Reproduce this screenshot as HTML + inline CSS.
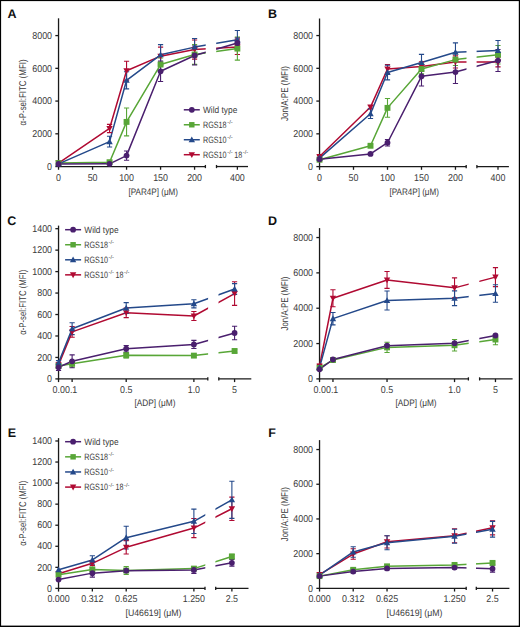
<!DOCTYPE html>
<html><head><meta charset="utf-8"><style>
html,body{margin:0;padding:0;background:#fff;}
body{width:520px;height:627px;overflow:hidden;}
svg{display:block;font-family:"Liberation Sans", sans-serif;text-rendering:geometricPrecision;}
</style></head><body>
<svg width="520" height="627" viewBox="0 0 520 627">
<rect x="0" y="0" width="520" height="627" fill="#fff"/>
<clipPath id="cA"><rect x="0" y="0" width="205.7" height="700"/><rect x="216.2" y="0" width="300" height="700"/></clipPath>
<text x="7.5" y="17.5" font-size="12.5" font-weight="bold" fill="#111">A</text>
<g stroke="#1a1a1a" stroke-width="1.3" fill="none">
<path d="M58.54 18.3V167.2"/>
<path d="M57.89 166.55H205.4"/>
<path d="M216.5 166.55H248"/>
<path d="M205.4 164.95V168.15"/>
<path d="M216.5 164.95V168.15"/>
<path d="M55.34 166.55H58.54"/>
<path d="M55.34 133.81H58.54"/>
<path d="M55.34 101.07H58.54"/>
<path d="M55.34 68.33H58.54"/>
<path d="M55.34 35.59H58.54"/>
<path d="M58.54 166.55V169.75"/>
<path d="M92.58 166.55V169.75"/>
<path d="M126.56 166.55V169.75"/>
<path d="M160.57 166.55V169.75"/>
<path d="M194.58 166.55V169.75"/>
<path d="M237.38 166.55V169.75"/>
</g>
<g font-size="19.8" fill="#3a3a3a">
<text transform="translate(52.04 169.75) scale(0.45 0.5)" text-anchor="end">0</text>
<text transform="translate(52.04 137.01) scale(0.45 0.5)" text-anchor="end">2000</text>
<text transform="translate(52.04 104.27) scale(0.45 0.5)" text-anchor="end">4000</text>
<text transform="translate(52.04 71.53) scale(0.45 0.5)" text-anchor="end">6000</text>
<text transform="translate(52.04 38.79) scale(0.45 0.5)" text-anchor="end">8000</text>
<text transform="translate(58.54 180.85) scale(0.45 0.5)" text-anchor="middle">0</text>
<text transform="translate(92.58 180.85) scale(0.45 0.5)" text-anchor="middle">50</text>
<text transform="translate(126.56 180.85) scale(0.45 0.5)" text-anchor="middle">100</text>
<text transform="translate(160.57 180.85) scale(0.45 0.5)" text-anchor="middle">150</text>
<text transform="translate(194.58 180.85) scale(0.45 0.5)" text-anchor="middle">200</text>
<text transform="translate(237.38 180.85) scale(0.45 0.5)" text-anchor="middle">400</text>
</g>
<text transform="translate(26.4 92.43) rotate(-90)" font-size="9.9" fill="#3a3a3a" text-anchor="middle" textLength="66" lengthAdjust="spacingAndGlyphs">α-P-sel:FITC (MFI)</text>
<text x="153.27" y="194.95" font-size="9.4" fill="#3a3a3a" text-anchor="middle" textLength="49.6" lengthAdjust="spacingAndGlyphs">[PAR4P] (μM)</text>
<g clip-path="url(#cA)" fill="none" stroke-width="1.5" stroke-linejoin="round">
<path d="M58.54 163.01 L109.55 128.49 L126.56 70.79 L160.57 56.15 L194.58 49.57 L237.38 47.11" stroke="#b00a32"/>
<path d="M58.54 163.01 L109.55 162.2 L126.56 121.91 L160.57 64.53 L194.58 54.51 L237.38 48.59" stroke="#58a637"/>
<path d="M58.54 163.83 L109.55 141.63 L126.56 80.31 L160.57 54.84 L194.58 47.11 L237.38 39.72" stroke="#24498a"/>
<path d="M58.54 164 L109.55 163.83 L126.56 155.61 L160.57 71.28 L194.58 55.5 L237.38 43.01" stroke="#4a1f6e"/>
</g>
<g fill="none" stroke-width="1.1">
<path d="M109.55 124.38V132.6 M106.95 124.38H112.15 M106.95 132.6H112.15" stroke="#b00a32"/>
<path d="M126.56 61.26V80.31 M123.96 61.26H129.16 M123.96 80.31H129.16" stroke="#b00a32"/>
<path d="M160.57 47.11V65.19 M157.97 47.11H163.17 M157.97 65.19H163.17" stroke="#b00a32"/>
<path d="M194.58 40.04V59.1 M191.98 40.04H197.18 M191.98 59.1H197.18" stroke="#b00a32"/>
<path d="M237.38 39.72V54.51 M234.78 39.72H239.98 M234.78 54.51H239.98" stroke="#b00a32"/>
<path d="M109.55 161.21V163.18 M106.95 161.21H112.15 M106.95 163.18H112.15" stroke="#58a637"/>
<path d="M126.56 107.93V135.89 M123.96 107.93H129.16 M123.96 135.89H129.16" stroke="#58a637"/>
<path d="M160.57 57.95V71.11 M157.97 57.95H163.17 M157.97 71.11H163.17" stroke="#58a637"/>
<path d="M194.58 44.64V64.38 M191.98 44.64H197.18 M191.98 64.38H197.18" stroke="#58a637"/>
<path d="M237.38 37.08V60.1 M234.78 37.08H239.98 M234.78 60.1H239.98" stroke="#58a637"/>
<path d="M109.55 136.22V147.05 M106.95 136.22H112.15 M106.95 147.05H112.15" stroke="#24498a"/>
<path d="M126.56 71.77V88.86 M123.96 71.77H129.16 M123.96 88.86H129.16" stroke="#24498a"/>
<path d="M160.57 44.64V65.04 M157.97 44.64H163.17 M157.97 65.04H163.17" stroke="#24498a"/>
<path d="M194.58 38.57V55.66 M191.98 38.57H197.18 M191.98 55.66H197.18" stroke="#24498a"/>
<path d="M237.38 30.52V48.92 M234.78 30.52H239.98 M234.78 48.92H239.98" stroke="#24498a"/>
<path d="M126.56 151.01V160.21 M123.96 151.01H129.16 M123.96 160.21H129.16" stroke="#4a1f6e"/>
<path d="M160.57 61.08V81.48 M157.97 61.08H163.17 M157.97 81.48H163.17" stroke="#4a1f6e"/>
<path d="M194.58 45.97V65.02 M191.98 45.97H197.18 M191.98 65.02H197.18" stroke="#4a1f6e"/>
<path d="M237.38 38.08V47.93 M234.78 38.08H239.98 M234.78 47.93H239.98" stroke="#4a1f6e"/>
</g>
<path d="M58.54 166.31L61.74 160.51L55.34 160.51Z" fill="#b00a32"/>
<path d="M109.55 131.79L112.75 125.99L106.35 125.99Z" fill="#b00a32"/>
<path d="M126.56 74.09L129.76 68.29L123.36 68.29Z" fill="#b00a32"/>
<path d="M160.57 59.45L163.77 53.65L157.37 53.65Z" fill="#b00a32"/>
<path d="M194.58 52.87L197.78 47.07L191.38 47.07Z" fill="#b00a32"/>
<path d="M237.38 50.41L240.58 44.61L234.18 44.61Z" fill="#b00a32"/>
<rect x="55.59" y="160.06" width="5.9" height="5.9" fill="#58a637"/>
<rect x="106.6" y="159.25" width="5.9" height="5.9" fill="#58a637"/>
<rect x="123.61" y="118.96" width="5.9" height="5.9" fill="#58a637"/>
<rect x="157.62" y="61.58" width="5.9" height="5.9" fill="#58a637"/>
<rect x="191.63" y="51.56" width="5.9" height="5.9" fill="#58a637"/>
<rect x="234.43" y="45.64" width="5.9" height="5.9" fill="#58a637"/>
<path d="M58.54 160.53L61.74 166.33L55.34 166.33Z" fill="#24498a"/>
<path d="M109.55 138.33L112.75 144.13L106.35 144.13Z" fill="#24498a"/>
<path d="M126.56 77.01L129.76 82.81L123.36 82.81Z" fill="#24498a"/>
<path d="M160.57 51.54L163.77 57.34L157.37 57.34Z" fill="#24498a"/>
<path d="M194.58 43.81L197.78 49.61L191.38 49.61Z" fill="#24498a"/>
<path d="M237.38 36.42L240.58 42.22L234.18 42.22Z" fill="#24498a"/>
<circle cx="58.54" cy="164" r="2.9" fill="#4a1f6e"/>
<circle cx="109.55" cy="163.83" r="2.9" fill="#4a1f6e"/>
<circle cx="126.56" cy="155.61" r="2.9" fill="#4a1f6e"/>
<circle cx="160.57" cy="71.28" r="2.9" fill="#4a1f6e"/>
<circle cx="194.58" cy="55.5" r="2.9" fill="#4a1f6e"/>
<circle cx="237.38" cy="43.01" r="2.9" fill="#4a1f6e"/>
<path d="M183.8 109.8H199.8" stroke="#4a1f6e" stroke-width="1.5"/>
<circle cx="191.8" cy="109.8" r="2.9" fill="#4a1f6e"/>
<text x="203" y="112.9" font-size="9.2" fill="#3a3a3a" textLength="34.3" lengthAdjust="spacingAndGlyphs">Wild type</text>
<path d="M183.8 124.77H199.8" stroke="#58a637" stroke-width="1.5"/>
<rect x="189.09" y="122.06" width="5.43" height="5.43" fill="#58a637"/>
<text x="203" y="127.87" font-size="9.2" fill="#3a3a3a" textLength="23.6" lengthAdjust="spacingAndGlyphs">RGS18</text>
<text x="227.3" y="124.37" font-size="5.6" fill="#3a3a3a" textLength="5.4" lengthAdjust="spacingAndGlyphs">-/-</text>
<path d="M183.8 139.74H199.8" stroke="#24498a" stroke-width="1.5"/>
<path d="M191.8 136.44L195 142.24L188.6 142.24Z" fill="#24498a"/>
<text x="203" y="142.84" font-size="9.2" fill="#3a3a3a" textLength="23.6" lengthAdjust="spacingAndGlyphs">RGS10</text>
<text x="227.3" y="139.34" font-size="5.6" fill="#3a3a3a" textLength="5.4" lengthAdjust="spacingAndGlyphs">-/-</text>
<path d="M183.8 154.71H199.8" stroke="#b00a32" stroke-width="1.5"/>
<path d="M191.8 158.01L195 152.21L188.6 152.21Z" fill="#b00a32"/>
<text x="203" y="157.81" font-size="9.2" fill="#3a3a3a" textLength="23.6" lengthAdjust="spacingAndGlyphs">RGS10</text>
<text x="227.3" y="154.31" font-size="5.6" fill="#3a3a3a" textLength="5.4" lengthAdjust="spacingAndGlyphs">-/-</text>
<text x="234.2" y="157.81" font-size="9.2" fill="#3a3a3a" textLength="8" lengthAdjust="spacingAndGlyphs">18</text>
<text x="242.8" y="154.31" font-size="5.6" fill="#3a3a3a" textLength="5.4" lengthAdjust="spacingAndGlyphs">-/-</text>
<clipPath id="cB"><rect x="0" y="0" width="466.5" height="700"/><rect x="476.6" y="0" width="300" height="700"/></clipPath>
<text x="268" y="18.2" font-size="12.5" font-weight="bold" fill="#111">B</text>
<g stroke="#1a1a1a" stroke-width="1.3" fill="none">
<path d="M319.54 18.5V167.25"/>
<path d="M318.89 166.6H466.2"/>
<path d="M476.9 166.6H508.9"/>
<path d="M466.2 165V168.2"/>
<path d="M476.9 165V168.2"/>
<path d="M316.34 166.6H319.54"/>
<path d="M316.34 133.84H319.54"/>
<path d="M316.34 101.08H319.54"/>
<path d="M316.34 68.32H319.54"/>
<path d="M316.34 35.56H319.54"/>
<path d="M319.54 166.6V169.8"/>
<path d="M353.5 166.6V169.8"/>
<path d="M387.5 166.6V169.8"/>
<path d="M421.5 166.6V169.8"/>
<path d="M455.46 166.6V169.8"/>
<path d="M498 166.6V169.8"/>
</g>
<g font-size="19.8" fill="#3a3a3a">
<text transform="translate(313.04 169.8) scale(0.45 0.5)" text-anchor="end">0</text>
<text transform="translate(313.04 137.04) scale(0.45 0.5)" text-anchor="end">2000</text>
<text transform="translate(313.04 104.28) scale(0.45 0.5)" text-anchor="end">4000</text>
<text transform="translate(313.04 71.52) scale(0.45 0.5)" text-anchor="end">6000</text>
<text transform="translate(313.04 38.76) scale(0.45 0.5)" text-anchor="end">8000</text>
<text transform="translate(319.54 180.9) scale(0.45 0.5)" text-anchor="middle">0</text>
<text transform="translate(353.5 180.9) scale(0.45 0.5)" text-anchor="middle">50</text>
<text transform="translate(387.5 180.9) scale(0.45 0.5)" text-anchor="middle">100</text>
<text transform="translate(421.5 180.9) scale(0.45 0.5)" text-anchor="middle">150</text>
<text transform="translate(455.46 180.9) scale(0.45 0.5)" text-anchor="middle">200</text>
<text transform="translate(498 180.9) scale(0.45 0.5)" text-anchor="middle">400</text>
</g>
<text transform="translate(287.6 93.55) rotate(-90)" font-size="9.9" fill="#3a3a3a" text-anchor="middle" textLength="55" lengthAdjust="spacingAndGlyphs">Jon/A:PE (MFI)</text>
<text x="414.22" y="195" font-size="9.4" fill="#3a3a3a" text-anchor="middle" textLength="49.6" lengthAdjust="spacingAndGlyphs">[PAR4P] (μM)</text>
<g clip-path="url(#cB)" fill="none" stroke-width="1.5" stroke-linejoin="round">
<path d="M319.54 156.48 L370.5 107.08 L387.5 69.01 L421.5 66.57 L455.46 61.93 L498 62" stroke="#b00a32"/>
<path d="M319.54 159.72 L370.5 145.78 L387.5 107.88 L421.5 69.01 L455.46 59.61 L498 54.72" stroke="#58a637"/>
<path d="M319.54 158.1 L370.5 113.71 L387.5 72.56 L421.5 62.52 L455.46 52.3 L498 50.6" stroke="#24498a"/>
<path d="M319.54 159.23 L370.5 153.89 L387.5 142.72 L421.5 76.3 L455.46 72.09 L498 60.54" stroke="#4a1f6e"/>
</g>
<g fill="none" stroke-width="1.1">
<path d="M319.54 155.51V157.44 M316.94 155.51H322.14 M316.94 157.44H322.14" stroke="#b00a32"/>
<path d="M370.5 105.45V108.7 M367.9 105.45H373.1 M367.9 108.7H373.1" stroke="#b00a32"/>
<path d="M387.5 64.47V73.55 M384.9 64.47H390.1 M384.9 73.55H390.1" stroke="#b00a32"/>
<path d="M421.5 61.7V71.43 M418.9 61.7H424.1 M418.9 71.43H424.1" stroke="#b00a32"/>
<path d="M455.46 55.87V67.99 M452.86 55.87H458.06 M452.86 67.99H458.06" stroke="#b00a32"/>
<path d="M498 57.08V66.91 M495.4 57.08H500.6 M495.4 66.91H500.6" stroke="#b00a32"/>
<path d="M319.54 158.75V160.69 M316.94 158.75H322.14 M316.94 160.69H322.14" stroke="#58a637"/>
<path d="M370.5 144.49V147.08 M367.9 144.49H373.1 M367.9 147.08H373.1" stroke="#58a637"/>
<path d="M387.5 98.48V117.28 M384.9 98.48H390.1 M384.9 117.28H390.1" stroke="#58a637"/>
<path d="M421.5 64.14V73.87 M418.9 64.14H424.1 M418.9 73.87H424.1" stroke="#58a637"/>
<path d="M455.46 53.71V65.5 M452.86 53.71H458.06 M452.86 65.5H458.06" stroke="#58a637"/>
<path d="M498 45.47V63.98 M495.4 45.47H500.6 M495.4 63.98H500.6" stroke="#58a637"/>
<path d="M319.54 157.13V159.07 M316.94 157.13H322.14 M316.94 159.07H322.14" stroke="#24498a"/>
<path d="M370.5 108.84V118.57 M367.9 108.84H373.1 M367.9 118.57H373.1" stroke="#24498a"/>
<path d="M387.5 65.27V79.85 M384.9 65.27H390.1 M384.9 79.85H390.1" stroke="#24498a"/>
<path d="M421.5 54.41V70.63 M418.9 54.41H424.1 M418.9 70.63H424.1" stroke="#24498a"/>
<path d="M455.46 42.9V61.7 M452.86 42.9H458.06 M452.86 61.7H458.06" stroke="#24498a"/>
<path d="M498 40.44V60.75 M495.4 40.44H500.6 M495.4 60.75H500.6" stroke="#24498a"/>
<path d="M319.54 158.26V160.2 M316.94 158.26H322.14 M316.94 160.2H322.14" stroke="#4a1f6e"/>
<path d="M370.5 152.92V154.86 M367.9 152.92H373.1 M367.9 154.86H373.1" stroke="#4a1f6e"/>
<path d="M387.5 139.47V145.96 M384.9 139.47H390.1 M384.9 145.96H390.1" stroke="#4a1f6e"/>
<path d="M421.5 66.58V86.01 M418.9 66.58H424.1 M418.9 86.01H424.1" stroke="#4a1f6e"/>
<path d="M455.46 60.62V83.55 M452.86 60.62H458.06 M452.86 83.55H458.06" stroke="#4a1f6e"/>
<path d="M498 49.56V71.51 M495.4 49.56H500.6 M495.4 71.51H500.6" stroke="#4a1f6e"/>
</g>
<path d="M319.54 159.78L322.74 153.98L316.34 153.98Z" fill="#b00a32"/>
<path d="M370.5 110.38L373.7 104.58L367.3 104.58Z" fill="#b00a32"/>
<path d="M387.5 72.31L390.7 66.51L384.3 66.51Z" fill="#b00a32"/>
<path d="M421.5 69.87L424.7 64.07L418.3 64.07Z" fill="#b00a32"/>
<path d="M455.46 65.23L458.66 59.43L452.26 59.43Z" fill="#b00a32"/>
<path d="M498 65.3L501.2 59.5L494.8 59.5Z" fill="#b00a32"/>
<rect x="316.59" y="156.77" width="5.9" height="5.9" fill="#58a637"/>
<rect x="367.55" y="142.83" width="5.9" height="5.9" fill="#58a637"/>
<rect x="384.55" y="104.93" width="5.9" height="5.9" fill="#58a637"/>
<rect x="418.55" y="66.06" width="5.9" height="5.9" fill="#58a637"/>
<rect x="452.51" y="56.66" width="5.9" height="5.9" fill="#58a637"/>
<rect x="495.05" y="51.77" width="5.9" height="5.9" fill="#58a637"/>
<path d="M319.54 154.8L322.74 160.6L316.34 160.6Z" fill="#24498a"/>
<path d="M370.5 110.41L373.7 116.21L367.3 116.21Z" fill="#24498a"/>
<path d="M387.5 69.26L390.7 75.06L384.3 75.06Z" fill="#24498a"/>
<path d="M421.5 59.22L424.7 65.02L418.3 65.02Z" fill="#24498a"/>
<path d="M455.46 49L458.66 54.8L452.26 54.8Z" fill="#24498a"/>
<path d="M498 47.3L501.2 53.1L494.8 53.1Z" fill="#24498a"/>
<circle cx="319.54" cy="159.23" r="2.9" fill="#4a1f6e"/>
<circle cx="370.5" cy="153.89" r="2.9" fill="#4a1f6e"/>
<circle cx="387.5" cy="142.72" r="2.9" fill="#4a1f6e"/>
<circle cx="421.5" cy="76.3" r="2.9" fill="#4a1f6e"/>
<circle cx="455.46" cy="72.09" r="2.9" fill="#4a1f6e"/>
<circle cx="498" cy="60.54" r="2.9" fill="#4a1f6e"/>
<clipPath id="cC"><rect x="0" y="0" width="208.1" height="700"/><rect x="218.5" y="0" width="300" height="700"/></clipPath>
<text x="7.2" y="224.6" font-size="12.5" font-weight="bold" fill="#111">C</text>
<g stroke="#1a1a1a" stroke-width="1.3" fill="none">
<path d="M58.54 225.6V379.55"/>
<path d="M57.89 378.9H207.8"/>
<path d="M218.8 378.9H251.3"/>
<path d="M207.8 377.3V380.5"/>
<path d="M218.8 377.3V380.5"/>
<path d="M55.34 378.9H58.54"/>
<path d="M55.34 357.44H58.54"/>
<path d="M55.34 335.98H58.54"/>
<path d="M55.34 314.52H58.54"/>
<path d="M55.34 293.06H58.54"/>
<path d="M55.34 271.6H58.54"/>
<path d="M55.34 250.14H58.54"/>
<path d="M55.34 228.68H58.54"/>
<path d="M58.54 378.9V382.1"/>
<path d="M72.12 378.9V382.1"/>
<path d="M126.2 378.9V382.1"/>
<path d="M193.88 378.9V382.1"/>
<path d="M234.58 378.9V382.1"/>
</g>
<g font-size="19.8" fill="#3a3a3a">
<text transform="translate(52.04 382.1) scale(0.45 0.5)" text-anchor="end">0</text>
<text transform="translate(52.04 360.64) scale(0.45 0.5)" text-anchor="end">200</text>
<text transform="translate(52.04 339.18) scale(0.45 0.5)" text-anchor="end">400</text>
<text transform="translate(52.04 317.72) scale(0.45 0.5)" text-anchor="end">600</text>
<text transform="translate(52.04 296.26) scale(0.45 0.5)" text-anchor="end">800</text>
<text transform="translate(52.04 274.8) scale(0.45 0.5)" text-anchor="end">1000</text>
<text transform="translate(52.04 253.34) scale(0.45 0.5)" text-anchor="end">1200</text>
<text transform="translate(52.04 231.88) scale(0.45 0.5)" text-anchor="end">1400</text>
<text transform="translate(126.2 393.2) scale(0.45 0.5)" text-anchor="middle">0.5</text>
<text transform="translate(193.88 393.2) scale(0.45 0.5)" text-anchor="middle">1.0</text>
<text transform="translate(234.58 393.2) scale(0.45 0.5)" text-anchor="middle">5</text>
<text transform="translate(64.94 393.2) scale(0.45 0.5)" text-anchor="middle">0.00.1</text>
</g>
<text transform="translate(26.4 302.25) rotate(-90)" font-size="9.9" fill="#3a3a3a" text-anchor="middle" textLength="65" lengthAdjust="spacingAndGlyphs">α-P-sel:FITC (MFI)</text>
<text x="154.92" y="406.4" font-size="9.4" fill="#3a3a3a" text-anchor="middle" textLength="41" lengthAdjust="spacingAndGlyphs">[ADP] (μM)</text>
<g clip-path="url(#cC)" fill="none" stroke-width="1.5" stroke-linejoin="round">
<path d="M58.54 364.95 L72.12 331.9 L126.2 312.8 L193.88 316.02 L234.58 293.6" stroke="#b00a32"/>
<path d="M58.54 366.02 L72.12 363.77 L126.2 355.29 L193.88 355.62 L234.58 351" stroke="#58a637"/>
<path d="M58.54 362.8 L72.12 328.68 L126.2 307.97 L193.88 303.79 L234.58 288.98" stroke="#24498a"/>
<path d="M58.54 367.31 L72.12 361.3 L126.2 348.75 L193.88 344.46 L234.58 332.98" stroke="#4a1f6e"/>
</g>
<g fill="none" stroke-width="1.1">
<path d="M58.54 362.8V367.1 M55.94 362.8H61.14 M55.94 367.1H61.14" stroke="#b00a32"/>
<path d="M72.12 326.54V337.27 M69.52 326.54H74.72 M69.52 337.27H74.72" stroke="#b00a32"/>
<path d="M126.2 307.97V317.63 M123.6 307.97H128.8 M123.6 317.63H128.8" stroke="#b00a32"/>
<path d="M193.88 311.52V320.53 M191.28 311.52H196.48 M191.28 320.53H196.48" stroke="#b00a32"/>
<path d="M234.58 281.79V305.4 M231.98 281.79H237.18 M231.98 305.4H237.18" stroke="#b00a32"/>
<path d="M58.54 363.88V368.17 M55.94 363.88H61.14 M55.94 368.17H61.14" stroke="#58a637"/>
<path d="M72.12 360.55V366.99 M69.52 360.55H74.72 M69.52 366.99H74.72" stroke="#58a637"/>
<path d="M126.2 352.61V357.98 M123.6 352.61H128.8 M123.6 357.98H128.8" stroke="#58a637"/>
<path d="M193.88 354.01V357.23 M191.28 354.01H196.48 M191.28 357.23H196.48" stroke="#58a637"/>
<path d="M234.58 349.39V352.61 M231.98 349.39H237.18 M231.98 352.61H237.18" stroke="#58a637"/>
<path d="M58.54 360.66V364.95 M55.94 360.66H61.14 M55.94 364.95H61.14" stroke="#24498a"/>
<path d="M72.12 322.78V334.59 M69.52 322.78H74.72 M69.52 334.59H74.72" stroke="#24498a"/>
<path d="M126.2 302.61V313.34 M123.6 302.61H128.8 M123.6 313.34H128.8" stroke="#24498a"/>
<path d="M193.88 299.71V307.87 M191.28 299.71H196.48 M191.28 307.87H196.48" stroke="#24498a"/>
<path d="M234.58 283.62V294.35 M231.98 283.62H237.18 M231.98 294.35H237.18" stroke="#24498a"/>
<path d="M58.54 364.09V370.53 M55.94 364.09H61.14 M55.94 370.53H61.14" stroke="#4a1f6e"/>
<path d="M72.12 354.86V367.74 M69.52 354.86H74.72 M69.52 367.74H74.72" stroke="#4a1f6e"/>
<path d="M126.2 345.53V351.97 M123.6 345.53H128.8 M123.6 351.97H128.8" stroke="#4a1f6e"/>
<path d="M193.88 340.38V348.53 M191.28 340.38H196.48 M191.28 348.53H196.48" stroke="#4a1f6e"/>
<path d="M234.58 326.22V339.74 M231.98 326.22H237.18 M231.98 339.74H237.18" stroke="#4a1f6e"/>
</g>
<path d="M58.54 368.25L61.74 362.45L55.34 362.45Z" fill="#b00a32"/>
<path d="M72.12 335.2L75.32 329.4L68.92 329.4Z" fill="#b00a32"/>
<path d="M126.2 316.1L129.4 310.3L123 310.3Z" fill="#b00a32"/>
<path d="M193.88 319.32L197.08 313.52L190.68 313.52Z" fill="#b00a32"/>
<path d="M234.58 296.9L237.78 291.1L231.38 291.1Z" fill="#b00a32"/>
<rect x="55.59" y="363.07" width="5.9" height="5.9" fill="#58a637"/>
<rect x="69.17" y="360.82" width="5.9" height="5.9" fill="#58a637"/>
<rect x="123.25" y="352.34" width="5.9" height="5.9" fill="#58a637"/>
<rect x="190.93" y="352.67" width="5.9" height="5.9" fill="#58a637"/>
<rect x="231.63" y="348.05" width="5.9" height="5.9" fill="#58a637"/>
<path d="M58.54 359.5L61.74 365.3L55.34 365.3Z" fill="#24498a"/>
<path d="M72.12 325.38L75.32 331.18L68.92 331.18Z" fill="#24498a"/>
<path d="M126.2 304.67L129.4 310.47L123 310.47Z" fill="#24498a"/>
<path d="M193.88 300.49L197.08 306.29L190.68 306.29Z" fill="#24498a"/>
<path d="M234.58 285.68L237.78 291.48L231.38 291.48Z" fill="#24498a"/>
<circle cx="58.54" cy="367.31" r="2.9" fill="#4a1f6e"/>
<circle cx="72.12" cy="361.3" r="2.9" fill="#4a1f6e"/>
<circle cx="126.2" cy="348.75" r="2.9" fill="#4a1f6e"/>
<circle cx="193.88" cy="344.46" r="2.9" fill="#4a1f6e"/>
<circle cx="234.58" cy="332.98" r="2.9" fill="#4a1f6e"/>
<path d="M65.1 229.7H81.1" stroke="#4a1f6e" stroke-width="1.5"/>
<circle cx="73.1" cy="229.7" r="2.9" fill="#4a1f6e"/>
<text x="84.3" y="232.8" font-size="9.2" fill="#3a3a3a" textLength="34.3" lengthAdjust="spacingAndGlyphs">Wild type</text>
<path d="M65.1 244.75H81.1" stroke="#58a637" stroke-width="1.5"/>
<rect x="70.39" y="242.04" width="5.43" height="5.43" fill="#58a637"/>
<text x="84.3" y="247.85" font-size="9.2" fill="#3a3a3a" textLength="23.6" lengthAdjust="spacingAndGlyphs">RGS18</text>
<text x="108.6" y="244.35" font-size="5.6" fill="#3a3a3a" textLength="5.4" lengthAdjust="spacingAndGlyphs">-/-</text>
<path d="M65.1 259.8H81.1" stroke="#24498a" stroke-width="1.5"/>
<path d="M73.1 256.5L76.3 262.3L69.9 262.3Z" fill="#24498a"/>
<text x="84.3" y="262.9" font-size="9.2" fill="#3a3a3a" textLength="23.6" lengthAdjust="spacingAndGlyphs">RGS10</text>
<text x="108.6" y="259.4" font-size="5.6" fill="#3a3a3a" textLength="5.4" lengthAdjust="spacingAndGlyphs">-/-</text>
<path d="M65.1 274.85H81.1" stroke="#b00a32" stroke-width="1.5"/>
<path d="M73.1 278.15L76.3 272.35L69.9 272.35Z" fill="#b00a32"/>
<text x="84.3" y="277.95" font-size="9.2" fill="#3a3a3a" textLength="23.6" lengthAdjust="spacingAndGlyphs">RGS10</text>
<text x="108.6" y="274.45" font-size="5.6" fill="#3a3a3a" textLength="5.4" lengthAdjust="spacingAndGlyphs">-/-</text>
<text x="115.5" y="277.95" font-size="9.2" fill="#3a3a3a" textLength="8" lengthAdjust="spacingAndGlyphs">18</text>
<text x="124.1" y="274.45" font-size="5.6" fill="#3a3a3a" textLength="5.4" lengthAdjust="spacingAndGlyphs">-/-</text>
<clipPath id="cD"><rect x="0" y="0" width="468.7" height="700"/><rect x="479.3" y="0" width="300" height="700"/></clipPath>
<text x="268" y="224.6" font-size="12.5" font-weight="bold" fill="#111">D</text>
<g stroke="#1a1a1a" stroke-width="1.3" fill="none">
<path d="M319.54 228.1V379.55"/>
<path d="M318.89 378.9H468.4"/>
<path d="M479.6 378.9H512.6"/>
<path d="M468.4 377.3V380.5"/>
<path d="M479.6 377.3V380.5"/>
<path d="M316.34 378.9H319.54"/>
<path d="M316.34 343.56H319.54"/>
<path d="M316.34 308.22H319.54"/>
<path d="M316.34 272.88H319.54"/>
<path d="M316.34 237.54H319.54"/>
<path d="M319.54 378.9V382.1"/>
<path d="M332.95 378.9V382.1"/>
<path d="M387.04 378.9V382.1"/>
<path d="M454.54 378.9V382.1"/>
<path d="M495.46 378.9V382.1"/>
</g>
<g font-size="19.8" fill="#3a3a3a">
<text transform="translate(313.04 382.1) scale(0.45 0.5)" text-anchor="end">0</text>
<text transform="translate(313.04 346.76) scale(0.45 0.5)" text-anchor="end">2000</text>
<text transform="translate(313.04 311.42) scale(0.45 0.5)" text-anchor="end">4000</text>
<text transform="translate(313.04 276.08) scale(0.45 0.5)" text-anchor="end">6000</text>
<text transform="translate(313.04 240.74) scale(0.45 0.5)" text-anchor="end">8000</text>
<text transform="translate(387.04 393.2) scale(0.45 0.5)" text-anchor="middle">0.5</text>
<text transform="translate(454.54 393.2) scale(0.45 0.5)" text-anchor="middle">1.0</text>
<text transform="translate(495.46 393.2) scale(0.45 0.5)" text-anchor="middle">5</text>
<text transform="translate(325.94 393.2) scale(0.45 0.5)" text-anchor="middle">0.00.1</text>
</g>
<text transform="translate(287.6 303.5) rotate(-90)" font-size="9.9" fill="#3a3a3a" text-anchor="middle" textLength="54" lengthAdjust="spacingAndGlyphs">Jon/A:PE (MFI)</text>
<text x="416.07" y="406.4" font-size="9.4" fill="#3a3a3a" text-anchor="middle" textLength="41" lengthAdjust="spacingAndGlyphs">[ADP] (μM)</text>
<g clip-path="url(#cD)" fill="none" stroke-width="1.5" stroke-linejoin="round">
<path d="M319.54 366.18 L332.95 298.24 L387.04 279.95 L454.54 287.86 L495.46 277.12" stroke="#b00a32"/>
<path d="M319.54 367.94 L332.95 360.03 L387.04 347.39 L454.54 345.24 L495.46 339.51" stroke="#58a637"/>
<path d="M319.54 367.59 L332.95 318.66 L387.04 300.53 L454.54 298.24 L495.46 293.48" stroke="#24498a"/>
<path d="M319.54 369.34 L332.95 359.5 L387.04 345.7 L454.54 343.19 L495.46 335.5" stroke="#4a1f6e"/>
</g>
<g fill="none" stroke-width="1.1">
<path d="M319.54 364.06V368.3 M316.94 364.06H322.14 M316.94 368.3H322.14" stroke="#b00a32"/>
<path d="M332.95 289.79V306.68 M330.35 289.79H335.55 M330.35 306.68H335.55" stroke="#b00a32"/>
<path d="M387.04 271.5V288.39 M384.44 271.5H389.64 M384.44 288.39H389.64" stroke="#b00a32"/>
<path d="M454.54 277.83V297.9 M451.94 277.83H457.14 M451.94 297.9H457.14" stroke="#b00a32"/>
<path d="M495.46 267.61V286.63 M492.86 267.61H498.06 M492.86 286.63H498.06" stroke="#b00a32"/>
<path d="M319.54 367.24V368.65 M316.94 367.24H322.14 M316.94 368.65H322.14" stroke="#58a637"/>
<path d="M332.95 359.32V360.74 M330.35 359.32H335.55 M330.35 360.74H335.55" stroke="#58a637"/>
<path d="M387.04 342.29V352.5 M384.44 342.29H389.64 M384.44 352.5H389.64" stroke="#58a637"/>
<path d="M454.54 339.43V351.05 M451.94 339.43H457.14 M451.94 351.05H457.14" stroke="#58a637"/>
<path d="M495.46 334.23V344.8 M492.86 334.23H498.06 M492.86 344.8H498.06" stroke="#58a637"/>
<path d="M319.54 364.96V370.22 M316.94 364.96H322.14 M316.94 370.22H322.14" stroke="#24498a"/>
<path d="M332.95 312.5V324.83 M330.35 312.5H335.55 M330.35 324.83H335.55" stroke="#24498a"/>
<path d="M387.04 291.03V310.04 M384.44 291.03H389.64 M384.44 310.04H389.64" stroke="#24498a"/>
<path d="M454.54 290.85V305.62 M451.94 290.85H457.14 M451.94 305.62H457.14" stroke="#24498a"/>
<path d="M495.46 284.68V302.28 M492.86 284.68H498.06 M492.86 302.28H498.06" stroke="#24498a"/>
<path d="M319.54 368.63V370.05 M316.94 368.63H322.14 M316.94 370.05H322.14" stroke="#4a1f6e"/>
<path d="M332.95 358.79V360.21 M330.35 358.79H335.55 M330.35 360.21H335.55" stroke="#4a1f6e"/>
<path d="M387.04 344.99V346.4 M384.44 344.99H389.64 M384.44 346.4H389.64" stroke="#4a1f6e"/>
<path d="M454.54 342.48V343.9 M451.94 342.48H457.14 M451.94 343.9H457.14" stroke="#4a1f6e"/>
<path d="M495.46 334.8V336.21 M492.86 334.8H498.06 M492.86 336.21H498.06" stroke="#4a1f6e"/>
</g>
<path d="M319.54 369.48L322.74 363.68L316.34 363.68Z" fill="#b00a32"/>
<path d="M332.95 301.54L336.15 295.74L329.75 295.74Z" fill="#b00a32"/>
<path d="M387.04 283.25L390.24 277.45L383.84 277.45Z" fill="#b00a32"/>
<path d="M454.54 291.16L457.74 285.36L451.34 285.36Z" fill="#b00a32"/>
<path d="M495.46 280.42L498.66 274.62L492.26 274.62Z" fill="#b00a32"/>
<rect x="316.59" y="364.99" width="5.9" height="5.9" fill="#58a637"/>
<rect x="330" y="357.08" width="5.9" height="5.9" fill="#58a637"/>
<rect x="384.09" y="344.44" width="5.9" height="5.9" fill="#58a637"/>
<rect x="451.59" y="342.29" width="5.9" height="5.9" fill="#58a637"/>
<rect x="492.51" y="336.56" width="5.9" height="5.9" fill="#58a637"/>
<path d="M319.54 364.29L322.74 370.09L316.34 370.09Z" fill="#24498a"/>
<path d="M332.95 315.36L336.15 321.16L329.75 321.16Z" fill="#24498a"/>
<path d="M387.04 297.23L390.24 303.03L383.84 303.03Z" fill="#24498a"/>
<path d="M454.54 294.94L457.74 300.74L451.34 300.74Z" fill="#24498a"/>
<path d="M495.46 290.18L498.66 295.98L492.26 295.98Z" fill="#24498a"/>
<circle cx="319.54" cy="369.34" r="2.9" fill="#4a1f6e"/>
<circle cx="332.95" cy="359.5" r="2.9" fill="#4a1f6e"/>
<circle cx="387.04" cy="345.7" r="2.9" fill="#4a1f6e"/>
<circle cx="454.54" cy="343.19" r="2.9" fill="#4a1f6e"/>
<circle cx="495.46" cy="335.5" r="2.9" fill="#4a1f6e"/>
<clipPath id="cE"><rect x="0" y="0" width="205.3" height="700"/><rect x="215.4" y="0" width="300" height="700"/></clipPath>
<text x="7.8" y="436.6" font-size="12.5" font-weight="bold" fill="#111">E</text>
<g stroke="#1a1a1a" stroke-width="1.3" fill="none">
<path d="M58.54 438.1V589.05"/>
<path d="M57.89 588.4H205"/>
<path d="M215.7 588.4H248.5"/>
<path d="M205 586.8V590"/>
<path d="M215.7 586.8V590"/>
<path d="M55.34 588.4H58.54"/>
<path d="M55.34 567.34H58.54"/>
<path d="M55.34 546.28H58.54"/>
<path d="M55.34 525.22H58.54"/>
<path d="M55.34 504.16H58.54"/>
<path d="M55.34 483.1H58.54"/>
<path d="M55.34 462.04H58.54"/>
<path d="M55.34 440.98H58.54"/>
<path d="M58.54 588.4V591.6"/>
<path d="M92.35 588.4V591.6"/>
<path d="M126.21 588.4V591.6"/>
<path d="M193.88 588.4V591.6"/>
<path d="M231.88 588.4V591.6"/>
</g>
<g font-size="19.8" fill="#3a3a3a">
<text transform="translate(52.04 591.6) scale(0.45 0.5)" text-anchor="end">0</text>
<text transform="translate(52.04 570.54) scale(0.45 0.5)" text-anchor="end">200</text>
<text transform="translate(52.04 549.48) scale(0.45 0.5)" text-anchor="end">400</text>
<text transform="translate(52.04 528.42) scale(0.45 0.5)" text-anchor="end">600</text>
<text transform="translate(52.04 507.36) scale(0.45 0.5)" text-anchor="end">800</text>
<text transform="translate(52.04 486.3) scale(0.45 0.5)" text-anchor="end">1000</text>
<text transform="translate(52.04 465.24) scale(0.45 0.5)" text-anchor="end">1200</text>
<text transform="translate(52.04 444.18) scale(0.45 0.5)" text-anchor="end">1400</text>
<text transform="translate(58.54 602.25) scale(0.45 0.5)" text-anchor="middle">0.000</text>
<text transform="translate(92.35 602.25) scale(0.45 0.5)" text-anchor="middle">0.312</text>
<text transform="translate(126.21 602.25) scale(0.45 0.5)" text-anchor="middle">0.625</text>
<text transform="translate(193.88 602.25) scale(0.45 0.5)" text-anchor="middle">1.250</text>
<text transform="translate(231.88 602.25) scale(0.45 0.5)" text-anchor="middle">2.5</text>
</g>
<text transform="translate(26.4 513.25) rotate(-90)" font-size="9.9" fill="#3a3a3a" text-anchor="middle" textLength="65" lengthAdjust="spacingAndGlyphs">α-P-sel:FITC (MFI)</text>
<text x="153.52" y="616.2" font-size="9.4" fill="#3a3a3a" text-anchor="middle" textLength="56" lengthAdjust="spacingAndGlyphs">[U46619] (μM)</text>
<g clip-path="url(#cE)" fill="none" stroke-width="1.5" stroke-linejoin="round">
<path d="M58.54 573.66 L92.35 563.34 L126.21 547.33 L193.88 528.06 L231.88 508.79" stroke="#b00a32"/>
<path d="M58.54 574.71 L92.35 569.45 L126.21 570.5 L193.88 568.6 L231.88 556.49" stroke="#58a637"/>
<path d="M58.54 569.76 L92.35 559.97 L126.21 537.65 L193.88 521.32 L231.88 499.84" stroke="#24498a"/>
<path d="M58.54 579.55 L92.35 573.13 L126.21 570.71 L193.88 569.97 L231.88 562.81" stroke="#4a1f6e"/>
</g>
<g fill="none" stroke-width="1.1">
<path d="M92.35 561.23V565.44 M89.75 561.23H94.95 M89.75 565.44H94.95" stroke="#b00a32"/>
<path d="M126.21 540.59V554.07 M123.61 540.59H128.81 M123.61 554.07H128.81" stroke="#b00a32"/>
<path d="M193.88 518.48V537.65 M191.28 518.48H196.48 M191.28 537.65H196.48" stroke="#b00a32"/>
<path d="M231.88 497.1V520.48 M229.28 497.1H234.48 M229.28 520.48H234.48" stroke="#b00a32"/>
<path d="M58.54 573.13V576.29 M55.94 573.13H61.14 M55.94 576.29H61.14" stroke="#58a637"/>
<path d="M92.35 567.34V571.55 M89.75 567.34H94.95 M89.75 571.55H94.95" stroke="#58a637"/>
<path d="M126.21 566.5V574.5 M123.61 566.5H128.81 M123.61 574.5H128.81" stroke="#58a637"/>
<path d="M193.88 567.02V570.18 M191.28 567.02H196.48 M191.28 570.18H196.48" stroke="#58a637"/>
<path d="M231.88 554.39V558.6 M229.28 554.39H234.48 M229.28 558.6H234.48" stroke="#58a637"/>
<path d="M92.35 555.76V564.18 M89.75 555.76H94.95 M89.75 564.18H94.95" stroke="#24498a"/>
<path d="M126.21 526.27V549.02 M123.61 526.27H128.81 M123.61 549.02H128.81" stroke="#24498a"/>
<path d="M193.88 509.11V533.54 M191.28 509.11H196.48 M191.28 533.54H196.48" stroke="#24498a"/>
<path d="M231.88 481.31V518.38 M229.28 481.31H234.48 M229.28 518.38H234.48" stroke="#24498a"/>
<path d="M92.35 569.13V577.13 M89.75 569.13H94.95 M89.75 577.13H94.95" stroke="#4a1f6e"/>
<path d="M126.21 569.13V572.29 M123.61 569.13H128.81 M123.61 572.29H128.81" stroke="#4a1f6e"/>
<path d="M193.88 566.6V573.34 M191.28 566.6H196.48 M191.28 573.34H196.48" stroke="#4a1f6e"/>
<path d="M231.88 559.55V566.08 M229.28 559.55H234.48 M229.28 566.08H234.48" stroke="#4a1f6e"/>
</g>
<path d="M58.54 576.96L61.74 571.16L55.34 571.16Z" fill="#b00a32"/>
<path d="M92.35 566.64L95.55 560.84L89.15 560.84Z" fill="#b00a32"/>
<path d="M126.21 550.63L129.41 544.83L123.01 544.83Z" fill="#b00a32"/>
<path d="M193.88 531.36L197.08 525.56L190.68 525.56Z" fill="#b00a32"/>
<path d="M231.88 512.09L235.08 506.29L228.68 506.29Z" fill="#b00a32"/>
<rect x="55.59" y="571.76" width="5.9" height="5.9" fill="#58a637"/>
<rect x="89.4" y="566.5" width="5.9" height="5.9" fill="#58a637"/>
<rect x="123.26" y="567.55" width="5.9" height="5.9" fill="#58a637"/>
<rect x="190.93" y="565.65" width="5.9" height="5.9" fill="#58a637"/>
<rect x="228.93" y="553.54" width="5.9" height="5.9" fill="#58a637"/>
<path d="M58.54 566.46L61.74 572.26L55.34 572.26Z" fill="#24498a"/>
<path d="M92.35 556.67L95.55 562.47L89.15 562.47Z" fill="#24498a"/>
<path d="M126.21 534.35L129.41 540.15L123.01 540.15Z" fill="#24498a"/>
<path d="M193.88 518.02L197.08 523.82L190.68 523.82Z" fill="#24498a"/>
<path d="M231.88 496.54L235.08 502.34L228.68 502.34Z" fill="#24498a"/>
<circle cx="58.54" cy="579.55" r="2.9" fill="#4a1f6e"/>
<circle cx="92.35" cy="573.13" r="2.9" fill="#4a1f6e"/>
<circle cx="126.21" cy="570.71" r="2.9" fill="#4a1f6e"/>
<circle cx="193.88" cy="569.97" r="2.9" fill="#4a1f6e"/>
<circle cx="231.88" cy="562.81" r="2.9" fill="#4a1f6e"/>
<path d="M65.1 441.7H81.1" stroke="#4a1f6e" stroke-width="1.5"/>
<circle cx="73.1" cy="441.7" r="2.9" fill="#4a1f6e"/>
<text x="84.3" y="444.8" font-size="9.2" fill="#3a3a3a" textLength="34.3" lengthAdjust="spacingAndGlyphs">Wild type</text>
<path d="M65.1 456.83H81.1" stroke="#58a637" stroke-width="1.5"/>
<rect x="70.39" y="454.12" width="5.43" height="5.43" fill="#58a637"/>
<text x="84.3" y="459.93" font-size="9.2" fill="#3a3a3a" textLength="23.6" lengthAdjust="spacingAndGlyphs">RGS18</text>
<text x="108.6" y="456.43" font-size="5.6" fill="#3a3a3a" textLength="5.4" lengthAdjust="spacingAndGlyphs">-/-</text>
<path d="M65.1 471.96H81.1" stroke="#24498a" stroke-width="1.5"/>
<path d="M73.1 468.66L76.3 474.46L69.9 474.46Z" fill="#24498a"/>
<text x="84.3" y="475.06" font-size="9.2" fill="#3a3a3a" textLength="23.6" lengthAdjust="spacingAndGlyphs">RGS10</text>
<text x="108.6" y="471.56" font-size="5.6" fill="#3a3a3a" textLength="5.4" lengthAdjust="spacingAndGlyphs">-/-</text>
<path d="M65.1 487.09H81.1" stroke="#b00a32" stroke-width="1.5"/>
<path d="M73.1 490.39L76.3 484.59L69.9 484.59Z" fill="#b00a32"/>
<text x="84.3" y="490.19" font-size="9.2" fill="#3a3a3a" textLength="23.6" lengthAdjust="spacingAndGlyphs">RGS10</text>
<text x="108.6" y="486.69" font-size="5.6" fill="#3a3a3a" textLength="5.4" lengthAdjust="spacingAndGlyphs">-/-</text>
<text x="115.5" y="490.19" font-size="9.2" fill="#3a3a3a" textLength="8" lengthAdjust="spacingAndGlyphs">18</text>
<text x="124.1" y="486.69" font-size="5.6" fill="#3a3a3a" textLength="5.4" lengthAdjust="spacingAndGlyphs">-/-</text>
<clipPath id="cF"><rect x="0" y="0" width="466.5" height="700"/><rect x="476" y="0" width="300" height="700"/></clipPath>
<text x="268.3" y="436.6" font-size="12.5" font-weight="bold" fill="#111">F</text>
<g stroke="#1a1a1a" stroke-width="1.3" fill="none">
<path d="M319.54 440.1V589"/>
<path d="M318.89 588.35H466.2"/>
<path d="M476.3 588.35H509.4"/>
<path d="M466.2 586.75V589.95"/>
<path d="M476.3 586.75V589.95"/>
<path d="M316.34 588.35H319.54"/>
<path d="M316.34 553.65H319.54"/>
<path d="M316.34 518.95H319.54"/>
<path d="M316.34 484.25H319.54"/>
<path d="M316.34 449.55H319.54"/>
<path d="M319.54 588.35V591.55"/>
<path d="M353.2 588.35V591.55"/>
<path d="M387.04 588.35V591.55"/>
<path d="M454.54 588.35V591.55"/>
<path d="M492.54 588.35V591.55"/>
</g>
<g font-size="19.8" fill="#3a3a3a">
<text transform="translate(313.04 591.55) scale(0.45 0.5)" text-anchor="end">0</text>
<text transform="translate(313.04 556.85) scale(0.45 0.5)" text-anchor="end">2000</text>
<text transform="translate(313.04 522.15) scale(0.45 0.5)" text-anchor="end">4000</text>
<text transform="translate(313.04 487.45) scale(0.45 0.5)" text-anchor="end">6000</text>
<text transform="translate(313.04 452.75) scale(0.45 0.5)" text-anchor="end">8000</text>
<text transform="translate(319.54 602.2) scale(0.45 0.5)" text-anchor="middle">0.000</text>
<text transform="translate(353.2 602.2) scale(0.45 0.5)" text-anchor="middle">0.312</text>
<text transform="translate(387.04 602.2) scale(0.45 0.5)" text-anchor="middle">0.625</text>
<text transform="translate(454.54 602.2) scale(0.45 0.5)" text-anchor="middle">1.250</text>
<text transform="translate(492.54 602.2) scale(0.45 0.5)" text-anchor="middle">2.5</text>
</g>
<text transform="translate(287.6 514.23) rotate(-90)" font-size="9.9" fill="#3a3a3a" text-anchor="middle" textLength="54" lengthAdjust="spacingAndGlyphs">Jon/A:PE (MFI)</text>
<text x="414.47" y="616.15" font-size="9.4" fill="#3a3a3a" text-anchor="middle" textLength="56" lengthAdjust="spacingAndGlyphs">[U46619] (μM)</text>
<g clip-path="url(#cF)" fill="none" stroke-width="1.5" stroke-linejoin="round">
<path d="M319.54 574.56 L353.2 554.07 L387.04 541.82 L454.54 535.69 L492.54 527.83" stroke="#b00a32"/>
<path d="M319.54 576.12 L353.2 569.82 L387.04 566.33 L454.54 564.93 L492.54 562.91" stroke="#58a637"/>
<path d="M319.54 575.08 L353.2 551.97 L387.04 542.7 L454.54 536.23 L492.54 529.22" stroke="#24498a"/>
<path d="M319.54 576.12 L353.2 571.57 L387.04 568.43 L454.54 567.55 L492.54 568.66" stroke="#4a1f6e"/>
</g>
<g fill="none" stroke-width="1.1">
<path d="M319.54 573.15V575.96 M316.94 573.15H322.14 M316.94 575.96H322.14" stroke="#b00a32"/>
<path d="M353.2 548.81V559.32 M350.6 548.81H355.8 M350.6 559.32H355.8" stroke="#b00a32"/>
<path d="M387.04 535.69V547.94 M384.44 535.69H389.64 M384.44 547.94H389.64" stroke="#b00a32"/>
<path d="M454.54 528.7V542.68 M451.94 528.7H457.14 M451.94 542.68H457.14" stroke="#b00a32"/>
<path d="M492.54 520.84V534.83 M489.94 520.84H495.14 M489.94 534.83H495.14" stroke="#b00a32"/>
<path d="M319.54 575.06V577.18 M316.94 575.06H322.14 M316.94 577.18H322.14" stroke="#58a637"/>
<path d="M353.2 568.41V571.23 M350.6 568.41H355.8 M350.6 571.23H355.8" stroke="#58a637"/>
<path d="M387.04 564.93V567.74 M384.44 564.93H389.64 M384.44 567.74H389.64" stroke="#58a637"/>
<path d="M454.54 563.52V566.33 M451.94 563.52H457.14 M451.94 566.33H457.14" stroke="#58a637"/>
<path d="M492.54 561.51V564.32 M489.94 561.51H495.14 M489.94 564.32H495.14" stroke="#58a637"/>
<path d="M319.54 573.67V576.48 M316.94 573.67H322.14 M316.94 576.48H322.14" stroke="#24498a"/>
<path d="M353.2 546.71V557.22 M350.6 546.71H355.8 M350.6 557.22H355.8" stroke="#24498a"/>
<path d="M387.04 535.71V549.69 M384.44 535.71H389.64 M384.44 549.69H389.64" stroke="#24498a"/>
<path d="M454.54 529.24V543.22 M451.94 529.24H457.14 M451.94 543.22H457.14" stroke="#24498a"/>
<path d="M492.54 521.34V537.1 M489.94 521.34H495.14 M489.94 537.1H495.14" stroke="#24498a"/>
<path d="M319.54 575.06V577.18 M316.94 575.06H322.14 M316.94 577.18H322.14" stroke="#4a1f6e"/>
<path d="M353.2 570.17V572.98 M350.6 570.17H355.8 M350.6 572.98H355.8" stroke="#4a1f6e"/>
<path d="M387.04 567.03V569.84 M384.44 567.03H389.64 M384.44 569.84H389.64" stroke="#4a1f6e"/>
<path d="M454.54 566.14V568.95 M451.94 566.14H457.14 M451.94 568.95H457.14" stroke="#4a1f6e"/>
<path d="M492.54 565.15V572.16 M489.94 565.15H495.14 M489.94 572.16H495.14" stroke="#4a1f6e"/>
</g>
<path d="M319.54 577.86L322.74 572.06L316.34 572.06Z" fill="#b00a32"/>
<path d="M353.2 557.37L356.4 551.57L350 551.57Z" fill="#b00a32"/>
<path d="M387.04 545.12L390.24 539.32L383.84 539.32Z" fill="#b00a32"/>
<path d="M454.54 538.99L457.74 533.19L451.34 533.19Z" fill="#b00a32"/>
<path d="M492.54 531.13L495.74 525.33L489.34 525.33Z" fill="#b00a32"/>
<rect x="316.59" y="573.17" width="5.9" height="5.9" fill="#58a637"/>
<rect x="350.25" y="566.87" width="5.9" height="5.9" fill="#58a637"/>
<rect x="384.09" y="563.38" width="5.9" height="5.9" fill="#58a637"/>
<rect x="451.59" y="561.98" width="5.9" height="5.9" fill="#58a637"/>
<rect x="489.59" y="559.96" width="5.9" height="5.9" fill="#58a637"/>
<path d="M319.54 571.78L322.74 577.58L316.34 577.58Z" fill="#24498a"/>
<path d="M353.2 548.67L356.4 554.47L350 554.47Z" fill="#24498a"/>
<path d="M387.04 539.4L390.24 545.2L383.84 545.2Z" fill="#24498a"/>
<path d="M454.54 532.93L457.74 538.73L451.34 538.73Z" fill="#24498a"/>
<path d="M492.54 525.92L495.74 531.72L489.34 531.72Z" fill="#24498a"/>
<circle cx="319.54" cy="576.12" r="2.9" fill="#4a1f6e"/>
<circle cx="353.2" cy="571.57" r="2.9" fill="#4a1f6e"/>
<circle cx="387.04" cy="568.43" r="2.9" fill="#4a1f6e"/>
<circle cx="454.54" cy="567.55" r="2.9" fill="#4a1f6e"/>
<circle cx="492.54" cy="568.66" r="2.9" fill="#4a1f6e"/>
<rect x="0" y="0" width="520" height="1.1" fill="#000"/>
<rect x="0" y="0" width="1.1" height="627" fill="#000"/>
<rect x="518.8" y="0" width="1.2" height="627" fill="#000"/>
<rect x="0" y="625.6" width="520" height="1.4" fill="#000"/>
</svg>
</body></html>
